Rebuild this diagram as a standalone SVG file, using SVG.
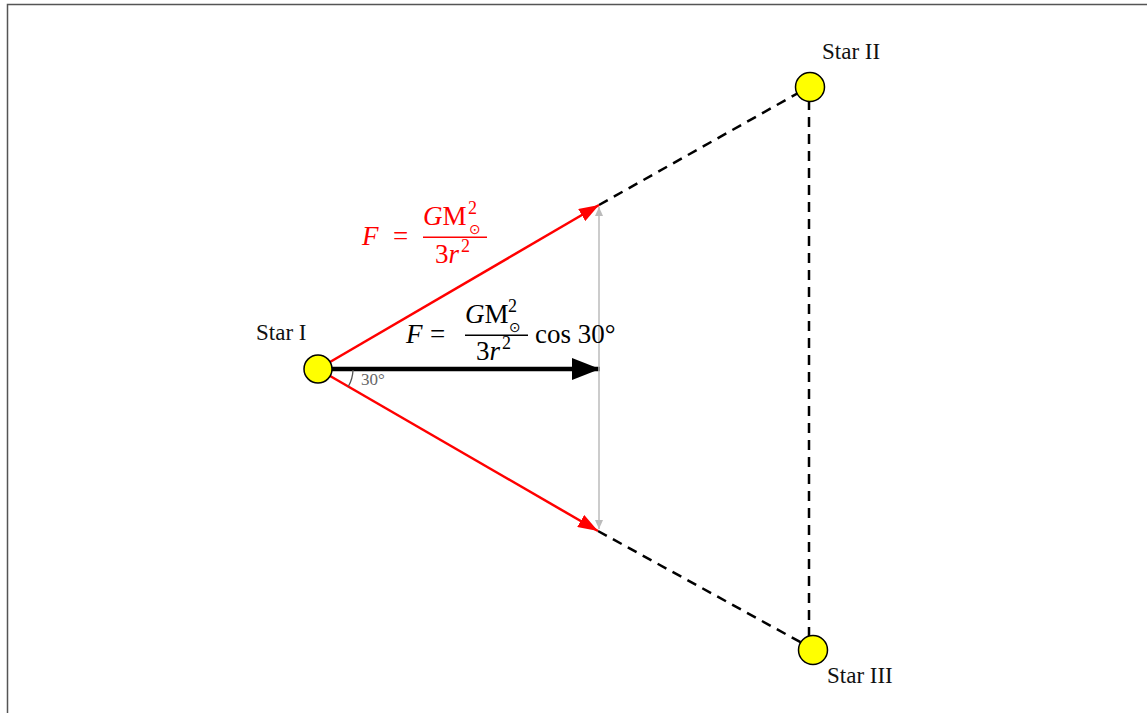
<svg xmlns="http://www.w3.org/2000/svg" width="1147" height="713" viewBox="0 0 1147 713">
<style>
.frame{fill:none;stroke:#555;stroke-width:1.5}
.dash{stroke:#000;stroke-width:2.5;stroke-dasharray:10 7;fill:none}
.red{stroke:#f00;stroke-width:2.5;fill:none}
.star{fill:#ff0;stroke:#000;stroke-width:1.5}
.lbl{font-family:"Liberation Serif",serif;font-size:23px;fill:#111}
.math{font-family:"Liberation Serif",serif;font-size:27px}
.it{font-style:italic}
.sup{font-family:"Liberation Serif",serif;font-size:18px}
.odot{font-family:"DejaVu Sans",sans-serif;font-size:14px}
</style>
<defs>
<marker id="ahRed" markerUnits="userSpaceOnUse" markerWidth="22" markerHeight="14" refX="20" refY="7" orient="auto">
<path d="M0,0 L20,7 L0,14 Z" fill="#f00"/>
</marker>
<marker id="ahBlack" markerUnits="userSpaceOnUse" markerWidth="30" markerHeight="24" refX="28" refY="11" orient="auto">
<path d="M0,0 L28,11 L0,22 Z" fill="#000"/>
</marker>
<marker id="ahGray" markerUnits="userSpaceOnUse" markerWidth="10" markerHeight="8" refX="9" refY="4" orient="auto-start-reverse">
<path d="M0,0 L9,4 L0,8 Z" fill="#bbb"/>
</marker>
</defs>
<rect class="frame" x="7.5" y="4.5" width="1200" height="760"/>
<g id="connectors">
<line class="dash" x1="599" y1="205" x2="800" y2="92"/>
<line class="dash" x1="598" y1="531" x2="802" y2="643"/>
<line class="dash" x1="809" y1="100" x2="809" y2="637"/>
<line class="red" x1="318" y1="369" x2="599" y2="205" marker-end="url(#ahRed)"/>
<line class="red" x1="318" y1="369" x2="598" y2="531" marker-end="url(#ahRed)"/>
<line x1="318" y1="369" x2="600" y2="369" stroke="#000" stroke-width="4.5" marker-end="url(#ahBlack)"/>
<line x1="599" y1="207" x2="599" y2="529" stroke="#bbb" stroke-width="1.5" marker-start="url(#ahGray)" marker-end="url(#ahGray)"/>
<path d="M353,370 A35,35 0 0 1 348.3,386.5" fill="none" stroke="#555" stroke-width="1.3"/>
<text x="361" y="385" font-family="Liberation Serif,serif" font-size="17" fill="#666">30°</text>
</g>
<g id="star1">
<circle class="star" cx="318" cy="369" r="14"/>
<text class="lbl" x="256" y="340">Star I</text>
</g>
<g id="star2">
<circle class="star" cx="810" cy="87" r="14.5"/>
<text class="lbl" x="822" y="59">Star II</text>
</g>
<g id="star3">
<circle class="star" cx="813" cy="650" r="14.5"/>
<text class="lbl" x="827" y="683">Star III</text>
</g>
<g id="formula-red" fill="#f00">
<text class="math it" x="362" y="245">F</text>
<text class="math" x="393" y="245">=</text>
<text class="math" x="423" y="225"><tspan class="it">G</tspan>M</text>
<text class="sup" x="468" y="214">2</text>
<text class="odot" x="469" y="234">⊙</text>
<rect x="423" y="236.5" width="64" height="1.5"/>
<text class="math" x="435" y="263">3<tspan class="it">r</tspan></text>
<text class="sup" x="461" y="252">2</text>
</g>
<g id="formula-black" fill="#000">
<text class="math it" x="406" y="343">F</text>
<text class="math" x="430" y="343">=</text>
<text class="math" x="465" y="323"><tspan class="it">G</tspan>M</text>
<text class="sup" x="508" y="312">2</text>
<text class="odot" x="509" y="332">⊙</text>
<rect x="465" y="334.5" width="63" height="1.5"/>
<text class="math" x="476" y="360">3<tspan class="it">r</tspan></text>
<text class="sup" x="502" y="349">2</text>
<text class="math" x="535" y="343">cos 30°</text>
</g>
</svg>
